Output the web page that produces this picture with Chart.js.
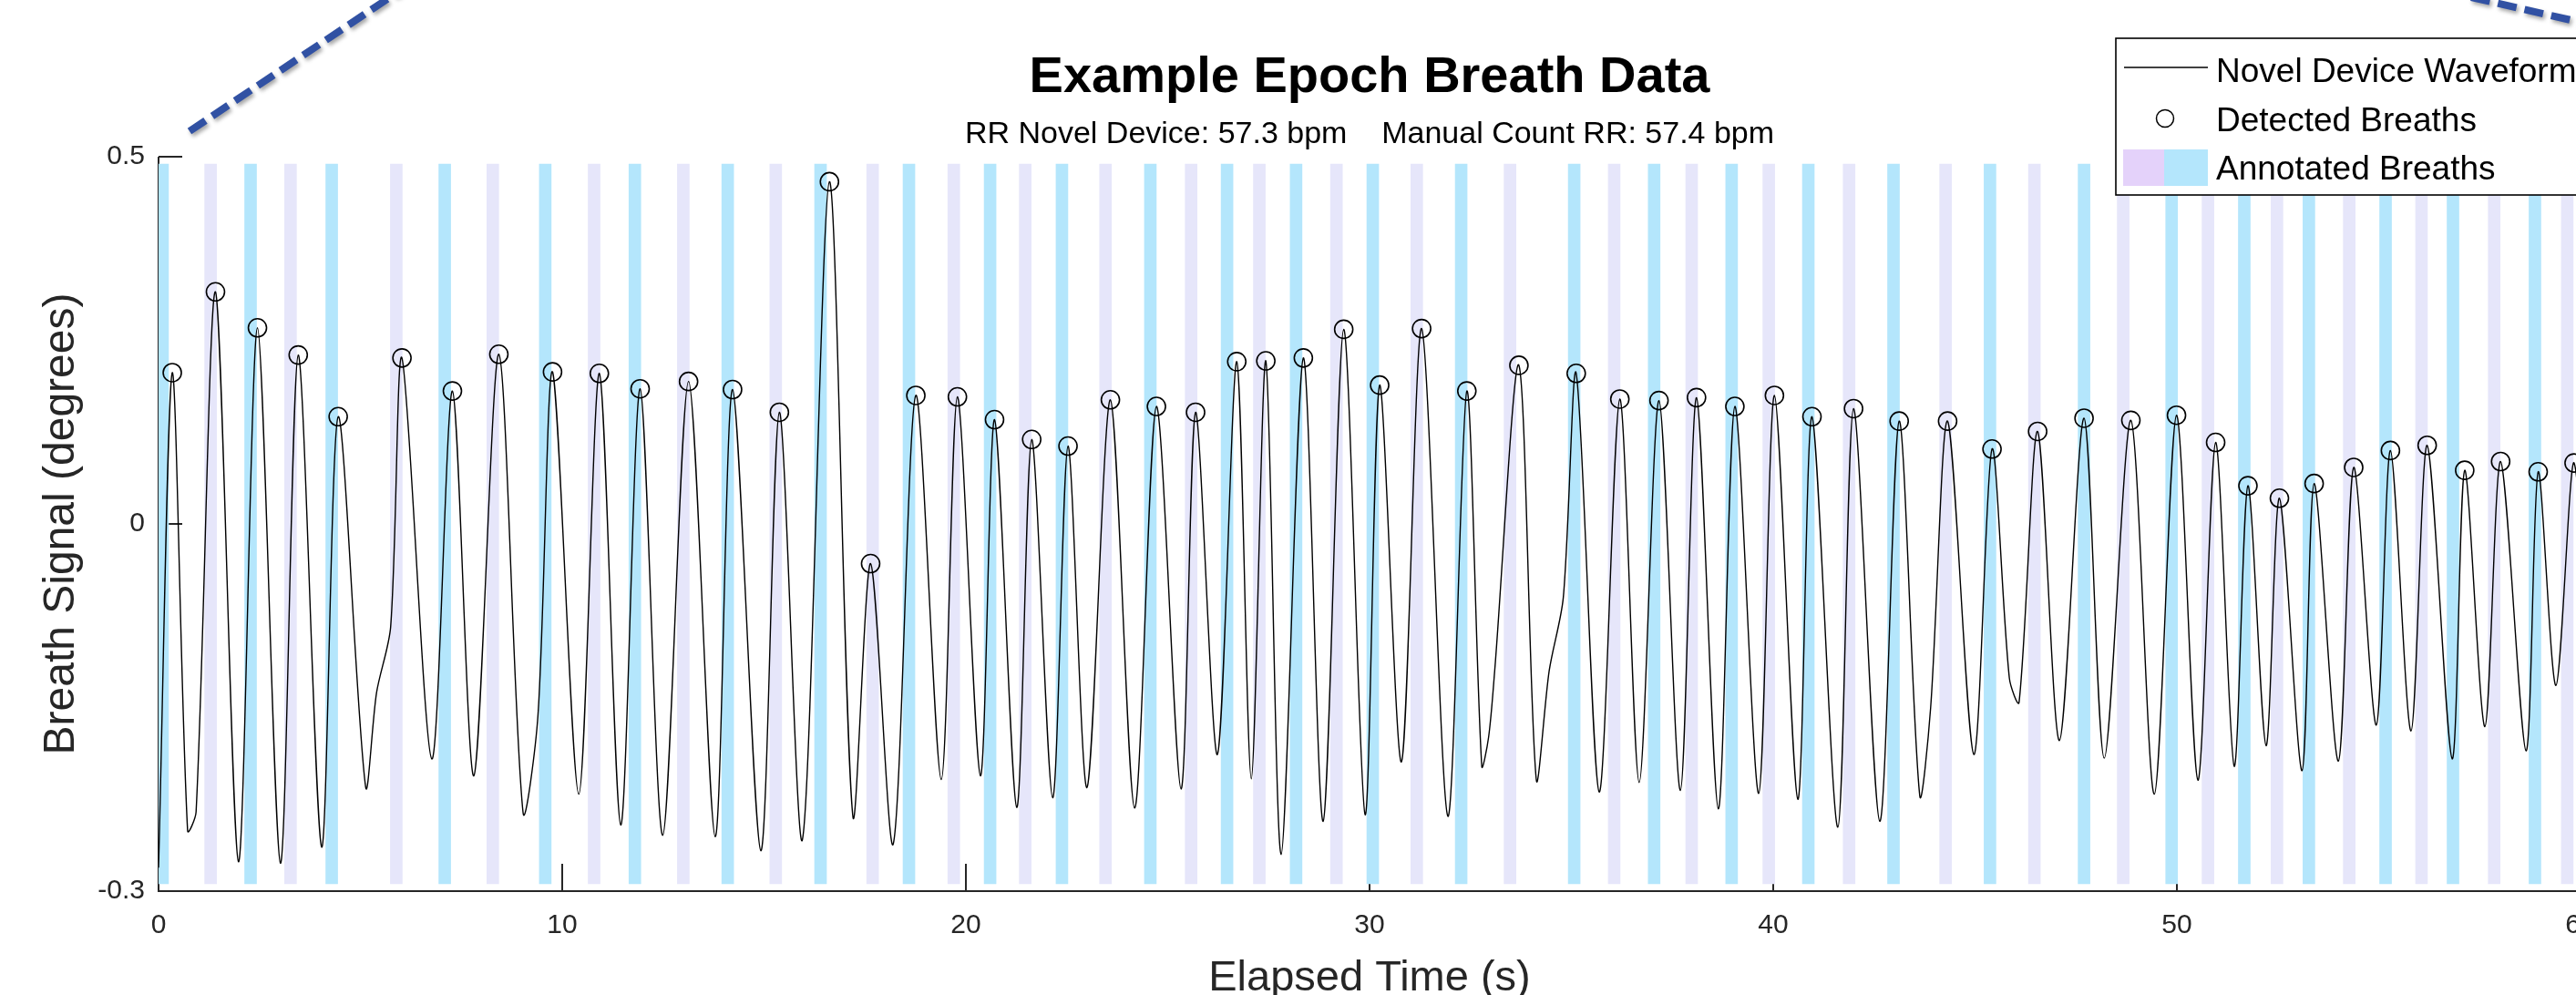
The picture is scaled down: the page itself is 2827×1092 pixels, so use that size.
<!DOCTYPE html>
<html>
<head>
<meta charset="utf-8">
<script src="https://cdn.jsdelivr.net/npm/chart.js@4.4.1/dist/chart.umd.min.js"></script>
<style>
  html, body { margin: 0; padding: 0; background: #ffffff; overflow: hidden; }
  #wrap { position: absolute; left: 0; top: 0; width: 2900px; height: 1120px; }
</style>
</head>
<body>
<div id="wrap"><canvas id="c" width="2900" height="1120"></canvas></div>
<script>
// ---------------- data ----------------
const titleText = 'Example Epoch Breath Data';
const subtitleText = 'RR Novel Device: 57.3 bpm    Manual Count RR: 57.4 bpm';
const xTitle = 'Elapsed Time (s)';
const yTitle = 'Breath Signal (degrees)';
const legendLabels = ['Novel Device Waveform', 'Detected Breaths', 'Annotated Breaths'];

const xTickValues = [0, 10, 20, 30, 40, 50, 60];
const yTickValues = [-0.5, 0, 0.5];
const yTickLabels = ['-0.3', '0', '0.5'];

// waveform (time s, signal)
const waveTime = [
  0.0, 0.34, 0.72, 0.93, 1.41, 1.98, 2.45, 3.02, 3.46, 4.04,
  4.45, 5.13, 5.4, 5.75, 6.03, 6.77, 7.28, 7.81, 8.43, 9.03,
  9.4, 9.76, 10.41, 10.92, 11.45, 11.93, 12.49, 13.13, 13.79, 14.22,
  14.92, 15.38, 15.95, 16.62, 17.2, 17.64, 18.2, 18.76, 19.39, 19.79,
  20.36, 20.71, 21.26, 21.63, 22.15, 22.53, 23.0, 23.58, 24.18, 24.72,
  25.33, 25.69, 26.23, 26.71, 27.07, 27.43, 27.81, 28.36, 28.85, 29.36,
  29.89, 30.25, 30.79, 31.29, 31.94, 32.41, 32.78, 32.95, 33.1, 33.7,
  34.13, 34.45, 34.8, 35.12, 35.69, 36.2, 36.68, 37.17, 37.7, 38.1,
  38.64, 39.05, 39.64, 40.03, 40.61, 40.96, 41.6, 41.99, 42.64, 43.12,
  43.63, 43.9, 44.32, 44.97, 45.42, 45.85, 46.09, 46.55, 47.09, 47.7,
  48.2, 48.86, 49.44, 49.99, 50.52, 50.96, 51.42, 51.76, 52.21, 52.54,
  53.1, 53.4, 54.0, 54.38, 54.94, 55.29, 55.8, 56.2, 56.82, 57.13,
  57.63, 58.02, 58.65, 58.95, 59.39, 59.84, 60.3
];
const waveSignal = [
  -0.468, 0.206, -0.418, -0.392, 0.316, -0.46, 0.267, -0.462, 0.230, -0.44,
  0.146, -0.358, -0.23, -0.14, 0.226, -0.32, 0.181, -0.343, 0.231, -0.393,
  -0.26, 0.207, -0.368, 0.205, -0.41, 0.184, -0.424, 0.194, -0.426, 0.183,
  -0.445, 0.152, -0.43, 0.466, -0.398, -0.054, -0.436, 0.175, -0.348, 0.173,
  -0.343, 0.142, -0.386, 0.115, -0.373, 0.106, -0.359, 0.169, -0.387, 0.160,
  -0.361, 0.152, -0.314, 0.221, -0.347, 0.222, -0.45, 0.226, -0.405, 0.265,
  -0.396, 0.189, -0.324, 0.266, -0.398, 0.181, -0.330, -0.29, -0.2, 0.216,
  -0.348, -0.2, -0.1, 0.205, -0.365, 0.170, -0.352, 0.168, -0.363, 0.172,
  -0.388, 0.160, -0.367, 0.175, -0.375, 0.146, -0.413, 0.157, -0.405, 0.140,
  -0.370, -0.25, 0.140, -0.314, 0.102, -0.21, -0.243, 0.126, -0.295, 0.144,
  -0.319, 0.141, -0.368, 0.148, -0.349, 0.111, -0.330, 0.052, -0.302, 0.035,
  -0.336, 0.055, -0.323, 0.077, -0.274, 0.100, -0.282, 0.107, -0.320, 0.073,
  -0.276, 0.085, -0.309, 0.071, -0.22, 0.083, -0.33
];

// detected breaths
const detectedTime = [
  0.34, 1.41, 2.45, 3.46, 4.45, 6.03, 7.28, 8.43, 9.76, 10.92,
  11.93, 13.13, 14.22, 15.38, 16.62, 17.64, 18.76, 19.79, 20.71, 21.63,
  22.53, 23.58, 24.72, 25.69, 26.71, 27.43, 28.36, 29.36, 30.25, 31.29,
  32.41, 33.7, 35.12, 36.2, 37.17, 38.1, 39.05, 40.03, 40.96, 41.99,
  43.12, 44.32, 45.42, 46.55, 47.7, 48.86, 49.99, 50.96, 51.76, 52.54,
  53.4, 54.38, 55.29, 56.2, 57.13, 58.02, 58.95, 59.84
];
const detectedSignal = [
  0.206, 0.316, 0.267, 0.230, 0.146, 0.226, 0.181, 0.231, 0.207, 0.205,
  0.184, 0.194, 0.183, 0.152, 0.466, -0.054, 0.175, 0.173, 0.142, 0.115,
  0.106, 0.169, 0.160, 0.152, 0.221, 0.222, 0.226, 0.265, 0.189, 0.266,
  0.181, 0.216, 0.205, 0.170, 0.168, 0.172, 0.160, 0.175, 0.146, 0.157,
  0.140, 0.140, 0.102, 0.126, 0.144, 0.141, 0.148, 0.111, 0.052, 0.035,
  0.055, 0.077, 0.100, 0.107, 0.073, 0.085, 0.071, 0.083
];

// annotated breaths (alternating colours)
const annotatedBlue = [
  0.1, 2.28, 4.29, 7.09, 9.58, 11.8, 14.1, 16.4, 18.59, 20.6,
  22.38, 24.57, 26.47, 28.18, 30.08, 32.27, 35.07, 37.05, 38.97, 40.87,
  42.98, 45.37, 47.7, 49.87, 51.67, 53.27, 55.17, 56.84, 58.87
];
const annotatedLavender = [
  1.29, 3.27, 5.89, 8.28, 10.79, 13.0, 15.29, 17.69, 19.7, 21.47,
  23.46, 25.58, 27.27, 29.18, 31.17, 33.48, 36.06, 37.98, 39.89, 41.88,
  44.27, 46.47, 48.67, 50.77, 52.48, 54.27, 56.06, 57.86, 59.67
];
const bandRange = [-0.49, 0.49];

// ---------------- styles ----------------
const FONT = "'Liberation Sans', Arial, Helvetica, sans-serif";
const AXIS_COLOR = '#262626';
const BLUE = '#b4e6fc';
const LAVENDER = '#e6e6fa';
const LEGEND_LAVENDER = '#e4d2fa';

Chart.defaults.font.family = FONT;

const axesPlugin = {
  id: 'matlabAxes',
  beforeDatasetsDraw(chart) {
    const ctx = chart.ctx;
    const xs = chart.scales.x, ys = chart.scales.y;
    const x0 = xs.getPixelForValue(xs.min);
    const y0 = ys.getPixelForValue(ys.min);
    const yTop = ys.getPixelForValue(ys.max);
    ctx.save();
    ctx.strokeStyle = AXIS_COLOR;
    ctx.lineWidth = 2;
    ctx.beginPath();
    ctx.moveTo(x0, yTop); ctx.lineTo(x0, y0);
    xTickValues.forEach(v => {
      const px = xs.getPixelForValue(v);
      ctx.moveTo(px, y0); ctx.lineTo(px, y0 - 30);
    });
    yTickValues.forEach(v => {
      const py = ys.getPixelForValue(v);
      ctx.moveTo(x0, py); ctx.lineTo(x0 + 26, py);
    });
    ctx.stroke();
    ctx.restore();
  },
  afterDatasetsDraw(chart) {
    const ctx = chart.ctx;
    const xs = chart.scales.x, ys = chart.scales.y;
    const y0 = ys.getPixelForValue(ys.min);
    ctx.save();
    ctx.strokeStyle = AXIS_COLOR;
    ctx.lineWidth = 2;
    ctx.beginPath();
    ctx.moveTo(xs.getPixelForValue(xs.min) - 1, y0);
    ctx.lineTo(chart.width, y0);
    ctx.stroke();
    ctx.restore();
  }
};

const legendPlugin = {
  id: 'boxLegend',
  afterDraw(chart) {
    const ctx = chart.ctx;
    const L = chart.chartArea.right - 510;
    const T = 42;
    ctx.save();
    ctx.fillStyle = '#ffffff';
    ctx.fillRect(L, T, 620, 172);
    ctx.strokeStyle = '#000';
    ctx.lineWidth = 1.6;
    ctx.strokeRect(L, T, 620, 172);
    // line sample
    ctx.beginPath();
    ctx.moveTo(L + 9, T + 32); ctx.lineTo(L + 101, T + 32);
    ctx.lineWidth = 1.5; ctx.stroke();
    // circle sample
    ctx.beginPath();
    ctx.arc(L + 54, T + 88, 9.5, 0, Math.PI * 2);
    ctx.lineWidth = 1.5; ctx.stroke();
    // patch sample
    ctx.fillStyle = LEGEND_LAVENDER;
    ctx.fillRect(L + 8, T + 122, 45, 40);
    ctx.fillStyle = BLUE;
    ctx.fillRect(L + 53, T + 122, 48, 40);
    // labels
    ctx.fillStyle = '#000';
    ctx.font = '37px ' + FONT;
    ctx.textBaseline = 'middle';
    ctx.textAlign = 'left';
    ctx.fillText(legendLabels[0], L + 110, T + 38);
    ctx.fillText(legendLabels[1], L + 110, T + 92);
    ctx.fillText(legendLabels[2], L + 110, T + 145);
    ctx.restore();
  }
};

const calloutPlugin = {
  id: 'callouts',
  afterDraw(chart) {
    const ctx = chart.ctx;
    ctx.save();
    ctx.strokeStyle = '#3151a3';
    ctx.lineWidth = 8;
    ctx.setLineDash([21, 9]);
    ctx.shadowColor = 'rgba(0,0,0,0.35)';
    ctx.shadowBlur = 4;
    ctx.shadowOffsetX = 2;
    ctx.shadowOffsetY = 3;
    ctx.beginPath();
    ctx.moveTo(208, 144); ctx.lineTo(470, -31);
    ctx.stroke();
    ctx.beginPath();
    ctx.moveTo(2712, -3); ctx.lineTo(2900, 40);
    ctx.stroke();
    ctx.restore();
  }
};

const chart = new Chart(document.getElementById('c'), {
  type: 'line',
  data: {
    datasets: [
      {
        label: legendLabels[1],
        data: detectedTime.map((t, i) => ({ x: t, y: detectedSignal[i] })),
        showLine: false,
        pointStyle: 'circle',
        pointRadius: 10,
        pointBorderWidth: 1.6,
        pointBorderColor: '#000',
        pointBackgroundColor: 'rgba(0,0,0,0)',
        order: 0
      },
      {
        label: legendLabels[0],
        data: waveTime.map((t, i) => ({ x: t, y: waveSignal[i] })),
        borderColor: '#000',
        borderWidth: 1.4,
        pointRadius: 0,
        tension: 0.3,
        fill: false,
        order: 1
      },
      {
        type: 'bar',
        label: legendLabels[2],
        data: annotatedBlue.map(t => ({ x: t, y: bandRange.slice() })),
        backgroundColor: BLUE,
        borderWidth: 0,
        barThickness: 13,
        grouped: false,
        order: 2
      },
      {
        type: 'bar',
        label: legendLabels[2],
        data: annotatedLavender.map(t => ({ x: t, y: bandRange.slice() })),
        backgroundColor: LAVENDER,
        borderWidth: 0,
        barThickness: 13,
        grouped: false,
        order: 3
      }
    ]
  },
  options: {
    responsive: false,
    animation: false,
    devicePixelRatio: 1,
    layout: { padding: { left: 0, right: 68, top: 0, bottom: 0 } },
    plugins: {
      legend: { display: false },
      tooltip: { enabled: false },
      title: {
        display: true,
        text: titleText,
        color: '#000',
        fullSize: false,
        font: { size: 56, weight: 'bold', family: FONT },
        padding: { top: 52, bottom: 0 }
      },
      subtitle: {
        display: true,
        text: subtitleText,
        color: '#000',
        fullSize: false,
        font: { size: 34, family: FONT },
        padding: { top: 8, bottom: 4 }
      }
    },
    scales: {
      x: {
        type: 'linear',
        min: 0,
        max: 60,
        offset: false,
        grid: { display: false, drawTicks: false },
        border: { display: false },
        afterBuildTicks: s => { s.ticks = xTickValues.map(v => ({ value: v })); },
        afterFit: s => { s.height = 142; },
        ticks: {
          autoSkip: false,
          maxRotation: 0,
          color: AXIS_COLOR,
          padding: 20,
          font: { size: 30, family: FONT }
        },
        title: {
          display: true,
          text: xTitle,
          color: AXIS_COLOR,
          font: { size: 47, family: FONT },
          padding: { top: 0, bottom: 18 }
        }
      },
      y: {
        type: 'linear',
        min: -0.5,
        max: 0.5,
        grid: { display: false, drawTicks: false },
        border: { display: false },
        afterBuildTicks: s => { s.ticks = yTickValues.map(v => ({ value: v })); },
        afterFit: s => { s.width = 174; },
        ticks: {
          color: AXIS_COLOR,
          padding: 15,
          font: { size: 30, family: FONT },
          callback: (v) => yTickLabels[yTickValues.indexOf(v)]
        },
        title: {
          display: true,
          text: yTitle,
          color: AXIS_COLOR,
          font: { size: 48, family: FONT },
          padding: { top: 39, bottom: 0 }
        }
      }
    }
  },
  plugins: [axesPlugin, legendPlugin, calloutPlugin]
});
</script>
</body>
</html>
